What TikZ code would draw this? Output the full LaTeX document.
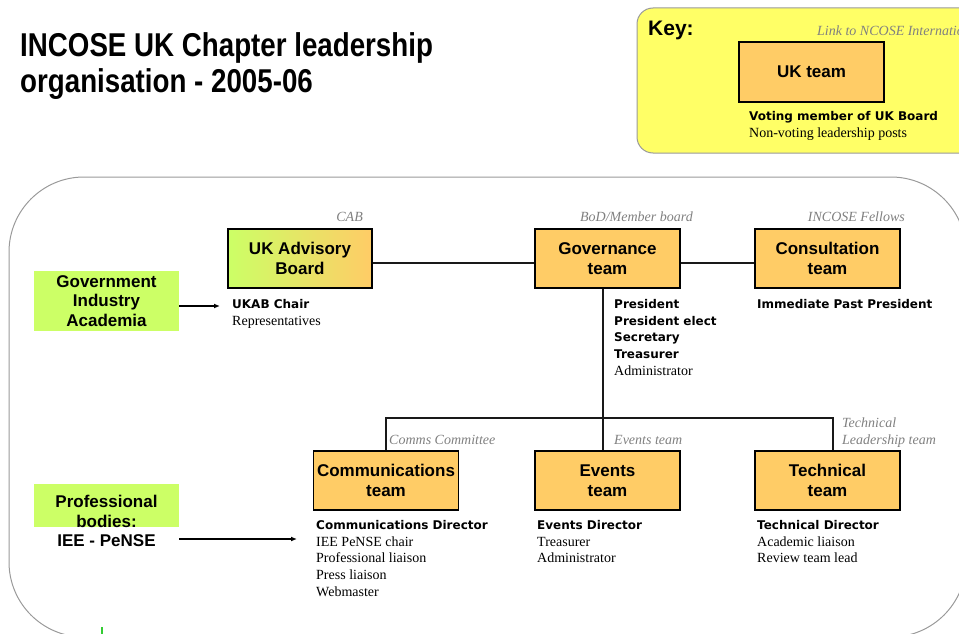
\documentclass[tikz,border=0pt]{standalone}
\usepackage{fontspec}
\setmainfont{Liberation Serif}
\newfontfamily\arialf{Liberation Sans}
\newfontfamily\titlef[FakeStretch=0.84]{Liberation Sans}
\newfontfamily\comicf{DejaVu Sans}
\usetikzlibrary{arrows.meta}
\definecolor{teamorange}{HTML}{FFCC66}
\definecolor{extgreen}{HTML}{CCFF66}
\definecolor{keyyellow}{HTML}{FFFF66}
\definecolor{labelgray}{HTML}{808080}
\definecolor{framegray}{HTML}{9A9A9A}
\definecolor{markgreen}{HTML}{33CC33}
\newcommand\postb{\comicf\bfseries\fontsize{12}{16.8}\selectfont}
\newcommand\postr{\rmfamily\fontsize{14}{16.8}\selectfont}
\newcommand\boxf{\arialf\bfseries\fontsize{17}{20}\selectfont}
\begin{document}
\begin{tikzpicture}[x=1pt,y=-1pt,
 team/.style={draw=black, line width=1.3pt, fill=teamorange, minimum width=145pt, minimum height=59pt, inner sep=0pt, align=center, font=\boxf},
 extbox/.style={fill=extgreen, inner sep=0pt},
 posts/.style={anchor=north west, inner sep=0pt, align=left, font=\fontsize{12}{16.8}\selectfont},
 grouplabel/.style={inner sep=0pt, text=labelgray, font=\rmfamily\itshape\fontsize{14}{17}\selectfont},
 conn/.style={draw=black!90, line width=1.3pt},
 feed/.style={draw=black, line width=1.3pt, -{Latex[length=6pt,width=5pt]}},
]
\useasboundingbox (0,0) rectangle (959,634);
\clip (0,0) rectangle (959,634);

% title
\node[anchor=north west, inner sep=0pt, align=left, font=\titlef\bfseries\fontsize{33}{35.7}\selectfont] (title) at (20,32.4) {INCOSE UK Chapter leadership\\organisation - 2005-06};

% key
\draw[draw=framegray, fill=keyyellow, line width=1pt, rounded corners=16pt] (637,8) rectangle (990,153);
\node[anchor=base west, inner sep=0pt, font=\arialf\bfseries\fontsize{21}{24}\selectfont] (keytitle) at (648,36) {Key:};
\node[grouplabel, anchor=base west] (keylink) at (817,36) {Link to NCOSE International};
\node[team, minimum height=60pt] (keyteam) at (811.5,72) {UK team};
\node[posts] (keyposts) at (749,110) {\rule{0pt}{10pt}\postb Voting member of UK Board\\\postr Non-voting leadership posts};

% main frame
\draw[framegray, line width=1pt, rounded corners=75pt] (9,177) rectangle (966,637);

% teams
\node[team, minimum width=144pt, left color=extgreen, right color=teamorange] (ukab) at (300,258.5) {UK Advisory\\Board};
\node[team] (gov) at (607.5,258.5) {Governance\\team};
\node[team] (cons) at (827.5,258.5) {Consultation\\team};
\node[team] (comm) at (386,480.5) {Communications\\team};
\node[team] (events) at (607.5,480.5) {Events\\team};
\node[team] (tech) at (827.5,480.5) {Technical\\team};

% group labels
\node[grouplabel, anchor=base east] (cablabel) at (363,221) {CAB};
\node[grouplabel, anchor=base east] (bodlabel) at (693,221) {BoD/Member board};
\node[grouplabel, anchor=base east] (fellowslabel) at (905,221) {INCOSE Fellows};
\node[grouplabel, anchor=base west] (commslabel) at (389,444) {Comms Committee};
\node[grouplabel, anchor=base west] (eventslabel) at (614,444) {Events team};
\node[grouplabel, anchor=north west, align=left] (techlabel) at (842,417.4) {Technical\\Leadership team};

% external bodies
\node[extbox, minimum width=145pt, minimum height=60pt, align=center, font=\arialf\bfseries\fontsize{17}{19.7}\selectfont] (gia) at (106.5,301) {Government\\Industry\\Academia};
\node[extbox, minimum width=145pt, minimum height=43pt] (profbg) at (106.5,505.5) {};
\node[anchor=north, inner sep=0pt, align=center, font=\arialf\bfseries\fontsize{17}{19.7}\selectfont] (proftext) at (106.5,494.8) {Professional\\bodies:\\IEE - PeNSE};

% posts
\node[posts] (ukabposts) at (232,298) {\rule{0pt}{10pt}\postb UKAB Chair\\\postr Representatives};
\node[posts] (govposts) at (614,298) {\rule{0pt}{10pt}\postb President\\\postb President elect\\\postb Secretary\\\postb Treasurer\\\postr Administrator};
\node[posts] (consposts) at (757,298) {\rule{0pt}{10pt}\postb Immediate Past President};
\node[posts] (commposts) at (316,519) {\rule{0pt}{10pt}\postb Communications Director\\\postr IEE PeNSE chair\\\postr Professional liaison\\\postr Press liaison\\\postr Webmaster};
\node[posts] (eventsposts) at (537,519) {\rule{0pt}{10pt}\postb Events Director\\\postr Treasurer\\\postr Administrator};
\node[posts] (techposts) at (757,519) {\rule{0pt}{10pt}\postb Technical Director\\\postr Academic liaison\\\postr Review team lead};

% connectors
\draw[conn] ([yshift=-4.5pt]ukab.east) -- ([yshift=-4.5pt]gov.west);
\draw[conn] ([yshift=-4.5pt]gov.east) -- ([yshift=-4.5pt]cons.west);
\draw[conn] ([xshift=-4.5pt]gov.south) -- ([xshift=-4.5pt]events.north);
\coordinate (bus) at (603,418);
\draw[conn] (comm.north) |- (bus) -| ([xshift=5.5pt]tech.north);

\coordinate (ukabarrow) at (220,306);
\draw[feed] (gia.east |- ukabarrow) -- (ukabarrow);
\coordinate (commarrow) at (297,539);
\draw[feed] (profbg.east |- commarrow) -- (commarrow);

% small green mark at bottom edge
\fill[markgreen] (100.5,627) rectangle (102.5,634);
\end{tikzpicture}
\end{document}
